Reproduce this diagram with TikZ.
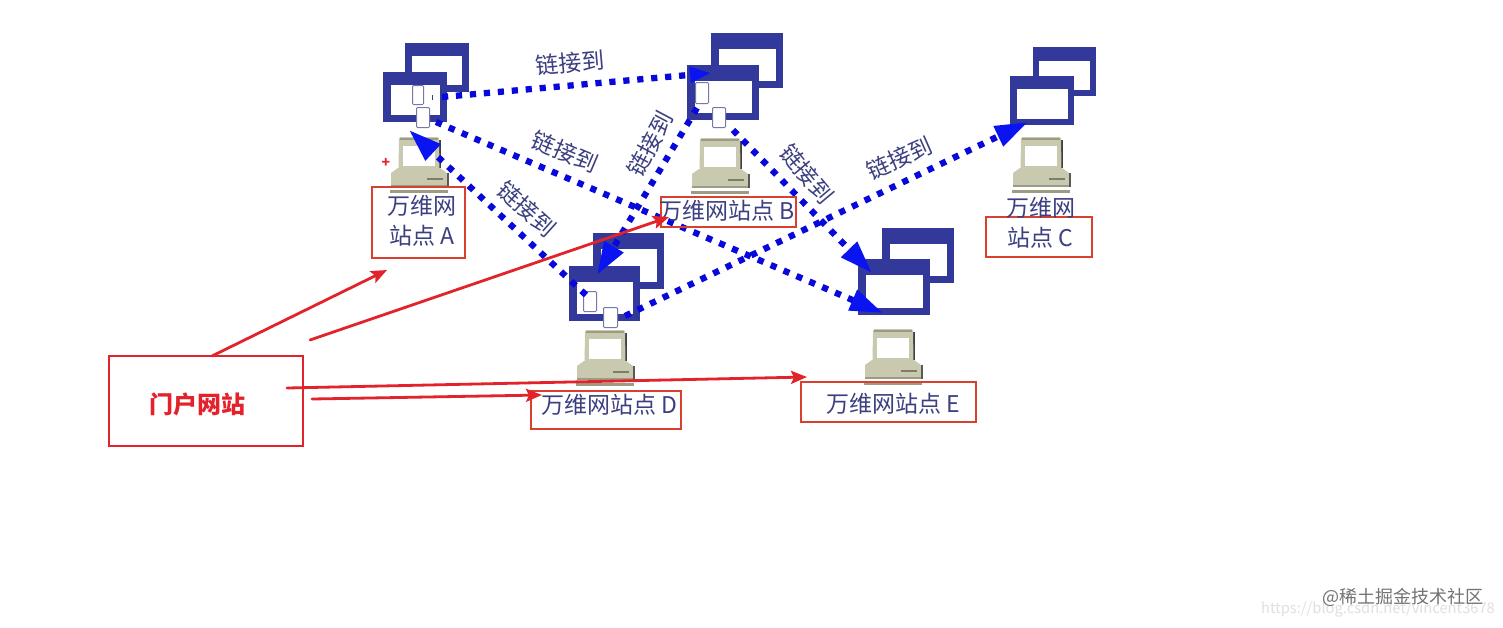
\documentclass[tikz,border=0pt]{standalone}
\usepackage{fontspec}
\setmainfont{Noto Sans CJK SC}
\usetikzlibrary{arrows.meta}
\definecolor{winblue}{HTML}{33399B}
\definecolor{dotblue}{HTML}{0808DC}
\definecolor{headblue}{HTML}{0A14F0}
\definecolor{lblue}{HTML}{3C3F80}
\definecolor{redb}{HTML}{D8402F}
\definecolor{reda}{HTML}{E3232C}
\definecolor{beige}{HTML}{C9C9B0}
\definecolor{beigedk}{HTML}{9C9C84}
\tikzset{
  winbox/.style={fill=winblue,outer sep=0pt,inner sep=0pt,anchor=center},
  docbox/.style={draw=lblue!70,fill=white,line width=1pt,rounded corners=1pt,outer sep=0pt,inner sep=0pt},
  sitebox/.style={draw=redb,line width=1.8pt,outer sep=0pt,inner sep=0pt},
  sitetext/.style={text=lblue,align=center,inner sep=0pt,font=\fontsize{23}{30}\selectfont},
  linktext/.style={text=lblue,font=\fontsize{23}{26}\selectfont,inner sep=0pt},
  dotlink/.style={draw=dotblue,line width=6.3pt,dash pattern=on 6.2pt off 7.8pt,-{Triangle[length=33pt,width=21pt,color=headblue]}},
  dotlinksmall/.style={draw=dotblue,line width=6.3pt,dash pattern=on 6.2pt off 7.8pt,-{Triangle[length=21pt,width=15pt,color=headblue]}},
  redarrow/.style={draw=reda,line width=2.8pt,line cap=round,-{Stealth[length=16pt,width=13pt,inset=3pt]}},
}
\newcommand{\mywin}[7]{% name, x1, y1, x2, y2 (outer), side, top
  \pgfmathsetmacro{\mw}{#4-#2}\pgfmathsetmacro{\mh}{#5-#3}
  \node[winbox,minimum width=\mw pt,minimum height=\mh pt] (#1) at ({(#2+#4)/2},{(#3+#5)/2}) {};
  \fill[white] ({#2+#6},{#3+#7}) rectangle ({#4-#6},{#5-#6});}
\newcommand{\mydoc}[5]{%
  \pgfmathsetmacro{\mw}{#4-#2-1}\pgfmathsetmacro{\mh}{#5-#3-1}
  \node[docbox,minimum width=\mw pt,minimum height=\mh pt] (#1) at ({(#2+#4)/2},{(#3+#5)/2}) {};}
\newcommand{\mypc}[3]{% name, centre x, top y
  \begin{scope}[shift={(#2,#3)}]
    \fill[black!75] (20,3) rectangle (22,31);
    \fill[beige,rounded corners=2pt] (-20,0) -- (20,0) -- (20.5,33) -- (-20.5,33) -- cycle;
    \fill[beigedk] (-19,0.5) rectangle (19,2.5);
    \fill[white] (-16,8.5) rectangle (15.5,29);
    \fill[beige] (-21,31) -- (21,31) -- (28,36) -- (28,49) -- (-28,49) -- (-28,36) -- cycle;
    \fill[beigedk] (-28,47.5) rectangle (28,49.5);
    \fill[black!65] (28,36) rectangle (29.5,49.5);
    \fill[beigedk!80!black] (8,40.5) rectangle (24,42.5);
    \fill[beigedk] (-29,52.5) rectangle (29,56);
    \coordinate (#1) at (0,0);
  \end{scope}}
\begin{document}
\begin{tikzpicture}[x=1pt,y=-1pt]
\useasboundingbox (0,0) rectangle (1503,627);
\fill[white] (0,0) rectangle (1503,627);

% windows
\mywin{wAb}{405}{43}{469}{92}{7}{13}\mywin{wAf}{383}{72}{447}{122}{7.5}{13}
\mywin{wBb}{711}{33}{783}{88}{7.5}{16}\mywin{wBf}{687}{65}{759}{120}{7.5}{16}
\mywin{wCb}{1033}{47}{1096}{96}{6}{14}\mywin{wCf}{1010}{76}{1074}{125}{6.5}{13}
\mywin{wDb}{593}{233}{664}{289}{7.5}{16}\mywin{wDf}{569}{266}{640}{321}{7.5}{16}
\mywin{wEb}{882}{228}{954}{283}{7.5}{16}\mywin{wEf}{858}{259}{930}{315}{7.5}{16}

% computers
\mypc{pcA}{419}{137}
\mypc{pcB}{720}{138}
\mypc{pcC}{1041}{137}
\mypc{pcD}{605}{330}
\mypc{pcE}{893}{329}

% documents
\mydoc{dA1}{412}{85}{424}{105}\mydoc{dA2}{416}{107}{430}{128}
\mydoc{dB1}{695}{82}{709}{104}\mydoc{dB2}{712}{107}{726}{128}
\mydoc{dD1}{583}{291}{597}{312}\mydoc{dD2}{603}{307}{618}{328}
\fill[lblue] (431.5,95) rectangle (433,100);

% link end points
\coordinate (sAB) at (442,97);   \coordinate (tAB) at (711,73);
\coordinate (sAE) at (436,122);  \coordinate (tAE) at (883,313);
\coordinate (sDA) at (586,295);  \coordinate (tDA) at (409,130);
\coordinate (sBD) at (697,108);  \coordinate (tBD) at (597,275);
\coordinate (sBE) at (733,130);  \coordinate (tBE) at (872,273);
\coordinate (sDC) at (625,316);  \coordinate (tDC) at (1028,122);

\draw[dotlinksmall] (sAB) -- (tAB);
\draw[dotlink] (sAE) -- (tAE);
\draw[dotlink] (sDA) -- (tDA);
\draw[dotlink] (sBD) -- (tBD);
\draw[dotlink] (sBE) -- (tBE);
\draw[dotlink] (sDC) -- (tDC);

% link labels
\node[linktext,rotate=5]   (l1) at (570,63)  {链接到};
\node[linktext,rotate=-23] (l2) at (565,152) {链接到};
\node[linktext,rotate=-42] (l3) at (527,209) {链接到};
\node[linktext,rotate=62]  (l4) at (650,144) {链接到};
\node[linktext,rotate=-50] (l5) at (807,174) {链接到};
\node[linktext,rotate=24]  (l6) at (899,158) {链接到};

% site labels
\node[sitebox,minimum width=93pt,minimum height=71pt] (sA) at (418.5,222.5) {};
\node[sitetext] (tA) at (422,221) {万维网\\站点 A};
\node[sitebox,minimum width=135pt,minimum height=30pt] (sB) at (728.5,212) {};
\node[sitetext] (tB) at (727,211) {万维网站点 B};
\node[sitebox,minimum width=106pt,minimum height=40pt] (sC) at (1039,237) {};
\node[sitetext] (sC1) at (1040.5,208) {万维网};
\node[sitetext] (sC2) at (1040,238) {站点 C};
\node[sitebox,minimum width=150pt,minimum height=38pt] (sD) at (606,410) {};
\node[sitetext] (tD) at (609,405) {万维网站点 D};
\node[sitebox,minimum width=175pt,minimum height=40pt] (sE) at (888.5,402) {};
\node[sitetext] (tE) at (893,404) {万维网站点 E};

\node[font=\fontsize{14}{16}\selectfont\bfseries,text=reda,inner sep=0pt] (plus) at (386,163) {+};

% portal
\node[draw=reda,line width=1.8pt,minimum width=194pt,minimum height=90pt,outer sep=0pt,inner sep=0pt] (portal) at (206,401) {};
\node[text=reda,inner sep=0pt,font=\fontsize{24}{26}\selectfont\bfseries] (portaltext) at (197,404) {门户网站};

\coordinate (r1s) at (212,356);  \coordinate (r1t) at (387,270);
\coordinate (r2s) at (310,340);  \coordinate (r2t) at (669,217);
\coordinate (r3s) at (287,388);  \coordinate (r3t) at (807,377);
\coordinate (r4s) at (312,399);  \coordinate (r4t) at (542,395);
\draw[redarrow] (r1s) -- (r1t);
\draw[redarrow] (r2s) -- (r2t);
\draw[redarrow] (r3s) -- (r3t);
\draw[redarrow] (r4s) -- (r4t);

% watermarks
\node[text=black!12,inner sep=0pt,font=\fontsize{14.7}{18}\selectfont] (wm2) at (1378,609) {https://blog.csdn.net/vincent3678};
\node[text=black!55,inner sep=0pt,font=\fontsize{18}{20}\selectfont] (wm1) at (1403,597) {@稀土掘金技术社区};
\end{tikzpicture}
\end{document}
